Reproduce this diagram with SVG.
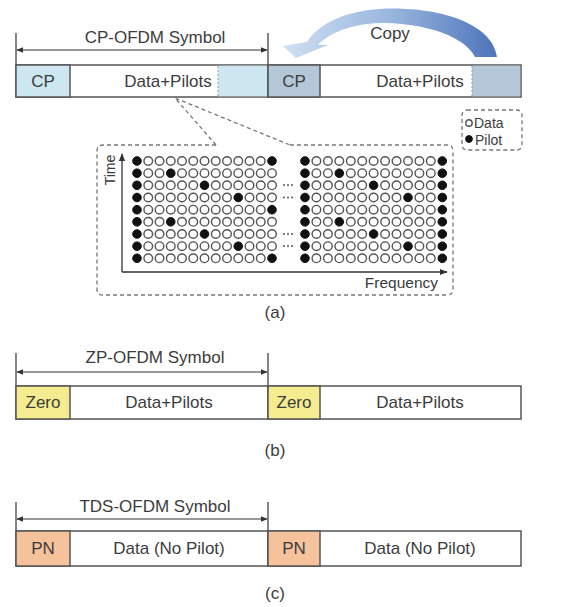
<svg xmlns="http://www.w3.org/2000/svg" width="568" height="607" viewBox="0 0 568 607">
<defs>
<marker id="ah" viewBox="0 0 10 10" refX="9" refY="5" markerWidth="6" markerHeight="6" orient="auto-start-reverse"><path d="M0,1 L10,5 L0,9 Z" fill="#333"/></marker>
<linearGradient id="cg" x1="0" y1="0" x2="1" y2="0"><stop offset="0" stop-color="#cfe0f2"/><stop offset="0.5" stop-color="#9ab6de"/><stop offset="1" stop-color="#4d74bb"/></linearGradient>
<style>
text{font-family:"Liberation Sans",Arial,sans-serif;fill:#3c3c3c;}
.lbl{font-size:17px;text-anchor:middle;}
.bar{stroke:#555;stroke-width:1.5;}
.dim{stroke:#333;stroke-width:1.2;fill:none;}
.tick{stroke:#333;stroke-width:1.2;}
.dash{stroke:#777;stroke-width:1.3;stroke-dasharray:4 3;fill:none;}
.d{fill:#fff;stroke:#555;stroke-width:1.4;}
.p{fill:#111;stroke:#111;stroke-width:1;}
.el{fill:#555;}
</style>
</defs>
<rect width="568" height="607" fill="#fff"/>

<g id="connectors">
<line class="tick" x1="16" y1="33" x2="16" y2="65"/>
<line class="tick" x1="268" y1="33" x2="268" y2="65"/>
<line class="dim" x1="17" y1="50" x2="267" y2="50" marker-start="url(#ah)" marker-end="url(#ah)"/>
<line class="tick" x1="16" y1="353" x2="16" y2="386"/>
<line class="tick" x1="268" y1="353" x2="268" y2="386"/>
<line class="dim" x1="17" y1="372" x2="267" y2="372" marker-start="url(#ah)" marker-end="url(#ah)"/>
<line class="tick" x1="16" y1="502" x2="16" y2="531"/>
<line class="tick" x1="268" y1="502" x2="268" y2="531"/>
<line class="dim" x1="17" y1="519" x2="267" y2="519" marker-start="url(#ah)" marker-end="url(#ah)"/>
<path d="M216,145 L175,98 L290,145" class="dash"/>
</g>

<g id="copy-arrow">
<path d="M497,57 C492,20 430,6 380,9 C345,11 318,24 307,42 L283,46 L296,58 L328,45 L318,45 C332,30 358,23 385,23 C430,24 466,38 475,57 Z" fill="url(#cg)"/>
<text class="lbl" x="390" y="39">Copy</text>
</g>

<g id="cp-label"><text class="lbl" x="155" y="43">CP-OFDM Symbol</text></g>

<g id="cp-symbol1">
<rect class="bar" x="16" y="65" width="252" height="32" fill="#fff"/>
<rect class="bar" x="16" y="65" width="54" height="32" fill="#cde7f0"/>
<rect x="218" y="65.75" width="49.25" height="30.5" fill="#cde7f0"/>
<line x1="218" y1="66" x2="218" y2="96" stroke="#999" stroke-width="1" stroke-dasharray="2 2"/>
<text class="lbl" x="43" y="87">CP</text>
<text class="lbl" x="168" y="87">Data+Pilots</text>
</g>

<g id="cp-symbol2">
<rect class="bar" x="268" y="65" width="253" height="32" fill="#fff"/>
<rect class="bar" x="268" y="65" width="52" height="32" fill="#b4c7d9"/>
<rect x="472" y="65.75" width="48.25" height="30.5" fill="#b4c7d9"/>
<line x1="472" y1="66" x2="472" y2="96" stroke="#999" stroke-width="1" stroke-dasharray="2 2"/>
<text class="lbl" x="294" y="87">CP</text>
<text class="lbl" x="420" y="87">Data+Pilots</text>
</g>

<g id="legend">
<rect x="462" y="110" width="60" height="40" rx="5" class="dash"/>
<circle cx="469" cy="123" r="3.2" class="d"/>
<text x="474" y="128" font-size="14">Data</text>
<circle cx="469" cy="139" r="3.4" class="p"/>
<text x="475" y="145" font-size="14">Pilot</text>
</g>

<g id="grid">
<path d="M216,145 L103,145 Q97,145 97,151 L97,289 Q97,295 103,295 L447,295 Q453,295 453,289 L453,151 Q453,145 447,145 L290,145" class="dash"/>
<line x1="122" y1="272" x2="122" y2="154" stroke="#333" stroke-width="1.3" marker-end="url(#ah)"/>
<line x1="122" y1="272" x2="447" y2="272" stroke="#333" stroke-width="1.3" marker-end="url(#ah)"/>
<text x="115" y="170" font-size="14" text-anchor="middle" transform="rotate(-90 115 170)">Time</text>
<text x="438" y="288" font-size="15.5" text-anchor="end">Frequency</text>
<g id="dotsL">
<circle cx="137" cy="161" r="4.3" class="p"/><circle cx="148.25" cy="161" r="4.3" class="d"/><circle cx="159.5" cy="161" r="4.3" class="d"/><circle cx="170.75" cy="161" r="4.3" class="d"/><circle cx="182" cy="161" r="4.3" class="d"/><circle cx="193.25" cy="161" r="4.3" class="d"/><circle cx="204.5" cy="161" r="4.3" class="d"/><circle cx="215.75" cy="161" r="4.3" class="d"/><circle cx="227" cy="161" r="4.3" class="d"/><circle cx="238.25" cy="161" r="4.3" class="d"/><circle cx="249.5" cy="161" r="4.3" class="d"/><circle cx="260.75" cy="161" r="4.3" class="d"/><circle cx="272" cy="161" r="4.3" class="p"/>
<circle cx="137" cy="173.2" r="4.3" class="p"/><circle cx="148.25" cy="173.2" r="4.3" class="d"/><circle cx="159.5" cy="173.2" r="4.3" class="d"/><circle cx="170.75" cy="173.2" r="4.3" class="p"/><circle cx="182" cy="173.2" r="4.3" class="d"/><circle cx="193.25" cy="173.2" r="4.3" class="d"/><circle cx="204.5" cy="173.2" r="4.3" class="d"/><circle cx="215.75" cy="173.2" r="4.3" class="d"/><circle cx="227" cy="173.2" r="4.3" class="d"/><circle cx="238.25" cy="173.2" r="4.3" class="d"/><circle cx="249.5" cy="173.2" r="4.3" class="d"/><circle cx="260.75" cy="173.2" r="4.3" class="d"/><circle cx="272" cy="173.2" r="4.3" class="d"/>
<circle cx="137" cy="185.3" r="4.3" class="p"/><circle cx="148.25" cy="185.3" r="4.3" class="d"/><circle cx="159.5" cy="185.3" r="4.3" class="d"/><circle cx="170.75" cy="185.3" r="4.3" class="d"/><circle cx="182" cy="185.3" r="4.3" class="d"/><circle cx="193.25" cy="185.3" r="4.3" class="d"/><circle cx="204.5" cy="185.3" r="4.3" class="p"/><circle cx="215.75" cy="185.3" r="4.3" class="d"/><circle cx="227" cy="185.3" r="4.3" class="d"/><circle cx="238.25" cy="185.3" r="4.3" class="d"/><circle cx="249.5" cy="185.3" r="4.3" class="d"/><circle cx="260.75" cy="185.3" r="4.3" class="d"/><circle cx="272" cy="185.3" r="4.3" class="d"/>
<circle cx="137" cy="197.5" r="4.3" class="p"/><circle cx="148.25" cy="197.5" r="4.3" class="d"/><circle cx="159.5" cy="197.5" r="4.3" class="d"/><circle cx="170.75" cy="197.5" r="4.3" class="d"/><circle cx="182" cy="197.5" r="4.3" class="d"/><circle cx="193.25" cy="197.5" r="4.3" class="d"/><circle cx="204.5" cy="197.5" r="4.3" class="d"/><circle cx="215.75" cy="197.5" r="4.3" class="d"/><circle cx="227" cy="197.5" r="4.3" class="d"/><circle cx="238.25" cy="197.5" r="4.3" class="p"/><circle cx="249.5" cy="197.5" r="4.3" class="d"/><circle cx="260.75" cy="197.5" r="4.3" class="d"/><circle cx="272" cy="197.5" r="4.3" class="d"/>
<circle cx="137" cy="209.7" r="4.3" class="p"/><circle cx="148.25" cy="209.7" r="4.3" class="d"/><circle cx="159.5" cy="209.7" r="4.3" class="d"/><circle cx="170.75" cy="209.7" r="4.3" class="d"/><circle cx="182" cy="209.7" r="4.3" class="d"/><circle cx="193.25" cy="209.7" r="4.3" class="d"/><circle cx="204.5" cy="209.7" r="4.3" class="d"/><circle cx="215.75" cy="209.7" r="4.3" class="d"/><circle cx="227" cy="209.7" r="4.3" class="d"/><circle cx="238.25" cy="209.7" r="4.3" class="d"/><circle cx="249.5" cy="209.7" r="4.3" class="d"/><circle cx="260.75" cy="209.7" r="4.3" class="d"/><circle cx="272" cy="209.7" r="4.3" class="p"/>
<circle cx="137" cy="221.8" r="4.3" class="p"/><circle cx="148.25" cy="221.8" r="4.3" class="d"/><circle cx="159.5" cy="221.8" r="4.3" class="d"/><circle cx="170.75" cy="221.8" r="4.3" class="p"/><circle cx="182" cy="221.8" r="4.3" class="d"/><circle cx="193.25" cy="221.8" r="4.3" class="d"/><circle cx="204.5" cy="221.8" r="4.3" class="d"/><circle cx="215.75" cy="221.8" r="4.3" class="d"/><circle cx="227" cy="221.8" r="4.3" class="d"/><circle cx="238.25" cy="221.8" r="4.3" class="d"/><circle cx="249.5" cy="221.8" r="4.3" class="d"/><circle cx="260.75" cy="221.8" r="4.3" class="d"/><circle cx="272" cy="221.8" r="4.3" class="d"/>
<circle cx="137" cy="234" r="4.3" class="p"/><circle cx="148.25" cy="234" r="4.3" class="d"/><circle cx="159.5" cy="234" r="4.3" class="d"/><circle cx="170.75" cy="234" r="4.3" class="d"/><circle cx="182" cy="234" r="4.3" class="d"/><circle cx="193.25" cy="234" r="4.3" class="d"/><circle cx="204.5" cy="234" r="4.3" class="p"/><circle cx="215.75" cy="234" r="4.3" class="d"/><circle cx="227" cy="234" r="4.3" class="d"/><circle cx="238.25" cy="234" r="4.3" class="d"/><circle cx="249.5" cy="234" r="4.3" class="d"/><circle cx="260.75" cy="234" r="4.3" class="d"/><circle cx="272" cy="234" r="4.3" class="d"/>
<circle cx="137" cy="246.2" r="4.3" class="p"/><circle cx="148.25" cy="246.2" r="4.3" class="d"/><circle cx="159.5" cy="246.2" r="4.3" class="d"/><circle cx="170.75" cy="246.2" r="4.3" class="d"/><circle cx="182" cy="246.2" r="4.3" class="d"/><circle cx="193.25" cy="246.2" r="4.3" class="d"/><circle cx="204.5" cy="246.2" r="4.3" class="d"/><circle cx="215.75" cy="246.2" r="4.3" class="d"/><circle cx="227" cy="246.2" r="4.3" class="d"/><circle cx="238.25" cy="246.2" r="4.3" class="p"/><circle cx="249.5" cy="246.2" r="4.3" class="d"/><circle cx="260.75" cy="246.2" r="4.3" class="d"/><circle cx="272" cy="246.2" r="4.3" class="d"/>
<circle cx="137" cy="258.3" r="4.3" class="p"/><circle cx="148.25" cy="258.3" r="4.3" class="d"/><circle cx="159.5" cy="258.3" r="4.3" class="d"/><circle cx="170.75" cy="258.3" r="4.3" class="d"/><circle cx="182" cy="258.3" r="4.3" class="d"/><circle cx="193.25" cy="258.3" r="4.3" class="d"/><circle cx="204.5" cy="258.3" r="4.3" class="d"/><circle cx="215.75" cy="258.3" r="4.3" class="d"/><circle cx="227" cy="258.3" r="4.3" class="d"/><circle cx="238.25" cy="258.3" r="4.3" class="d"/><circle cx="249.5" cy="258.3" r="4.3" class="d"/><circle cx="260.75" cy="258.3" r="4.3" class="d"/><circle cx="272" cy="258.3" r="4.3" class="p"/>
</g>
<g id="dotsR">
<circle cx="305" cy="161" r="4.3" class="p"/><circle cx="316.4" cy="161" r="4.3" class="d"/><circle cx="327.9" cy="161" r="4.3" class="d"/><circle cx="339.3" cy="161" r="4.3" class="d"/><circle cx="350.8" cy="161" r="4.3" class="d"/><circle cx="362.2" cy="161" r="4.3" class="d"/><circle cx="373.6" cy="161" r="4.3" class="d"/><circle cx="385.1" cy="161" r="4.3" class="d"/><circle cx="396.5" cy="161" r="4.3" class="d"/><circle cx="408" cy="161" r="4.3" class="d"/><circle cx="419.4" cy="161" r="4.3" class="d"/><circle cx="430.8" cy="161" r="4.3" class="d"/><circle cx="442.3" cy="161" r="4.3" class="p"/>
<circle cx="305" cy="173.2" r="4.3" class="p"/><circle cx="316.4" cy="173.2" r="4.3" class="d"/><circle cx="327.9" cy="173.2" r="4.3" class="d"/><circle cx="339.3" cy="173.2" r="4.3" class="p"/><circle cx="350.8" cy="173.2" r="4.3" class="d"/><circle cx="362.2" cy="173.2" r="4.3" class="d"/><circle cx="373.6" cy="173.2" r="4.3" class="d"/><circle cx="385.1" cy="173.2" r="4.3" class="d"/><circle cx="396.5" cy="173.2" r="4.3" class="d"/><circle cx="408" cy="173.2" r="4.3" class="d"/><circle cx="419.4" cy="173.2" r="4.3" class="d"/><circle cx="430.8" cy="173.2" r="4.3" class="d"/><circle cx="442.3" cy="173.2" r="4.3" class="p"/>
<circle cx="305" cy="185.3" r="4.3" class="p"/><circle cx="316.4" cy="185.3" r="4.3" class="d"/><circle cx="327.9" cy="185.3" r="4.3" class="d"/><circle cx="339.3" cy="185.3" r="4.3" class="d"/><circle cx="350.8" cy="185.3" r="4.3" class="d"/><circle cx="362.2" cy="185.3" r="4.3" class="d"/><circle cx="373.6" cy="185.3" r="4.3" class="p"/><circle cx="385.1" cy="185.3" r="4.3" class="d"/><circle cx="396.5" cy="185.3" r="4.3" class="d"/><circle cx="408" cy="185.3" r="4.3" class="d"/><circle cx="419.4" cy="185.3" r="4.3" class="d"/><circle cx="430.8" cy="185.3" r="4.3" class="d"/><circle cx="442.3" cy="185.3" r="4.3" class="p"/>
<circle cx="305" cy="197.5" r="4.3" class="p"/><circle cx="316.4" cy="197.5" r="4.3" class="d"/><circle cx="327.9" cy="197.5" r="4.3" class="d"/><circle cx="339.3" cy="197.5" r="4.3" class="d"/><circle cx="350.8" cy="197.5" r="4.3" class="d"/><circle cx="362.2" cy="197.5" r="4.3" class="d"/><circle cx="373.6" cy="197.5" r="4.3" class="d"/><circle cx="385.1" cy="197.5" r="4.3" class="d"/><circle cx="396.5" cy="197.5" r="4.3" class="d"/><circle cx="408" cy="197.5" r="4.3" class="p"/><circle cx="419.4" cy="197.5" r="4.3" class="d"/><circle cx="430.8" cy="197.5" r="4.3" class="d"/><circle cx="442.3" cy="197.5" r="4.3" class="p"/>
<circle cx="305" cy="209.7" r="4.3" class="p"/><circle cx="316.4" cy="209.7" r="4.3" class="d"/><circle cx="327.9" cy="209.7" r="4.3" class="d"/><circle cx="339.3" cy="209.7" r="4.3" class="d"/><circle cx="350.8" cy="209.7" r="4.3" class="d"/><circle cx="362.2" cy="209.7" r="4.3" class="d"/><circle cx="373.6" cy="209.7" r="4.3" class="d"/><circle cx="385.1" cy="209.7" r="4.3" class="d"/><circle cx="396.5" cy="209.7" r="4.3" class="d"/><circle cx="408" cy="209.7" r="4.3" class="d"/><circle cx="419.4" cy="209.7" r="4.3" class="d"/><circle cx="430.8" cy="209.7" r="4.3" class="d"/><circle cx="442.3" cy="209.7" r="4.3" class="p"/>
<circle cx="305" cy="221.8" r="4.3" class="p"/><circle cx="316.4" cy="221.8" r="4.3" class="d"/><circle cx="327.9" cy="221.8" r="4.3" class="d"/><circle cx="339.3" cy="221.8" r="4.3" class="p"/><circle cx="350.8" cy="221.8" r="4.3" class="d"/><circle cx="362.2" cy="221.8" r="4.3" class="d"/><circle cx="373.6" cy="221.8" r="4.3" class="d"/><circle cx="385.1" cy="221.8" r="4.3" class="d"/><circle cx="396.5" cy="221.8" r="4.3" class="d"/><circle cx="408" cy="221.8" r="4.3" class="d"/><circle cx="419.4" cy="221.8" r="4.3" class="d"/><circle cx="430.8" cy="221.8" r="4.3" class="d"/><circle cx="442.3" cy="221.8" r="4.3" class="p"/>
<circle cx="305" cy="234" r="4.3" class="p"/><circle cx="316.4" cy="234" r="4.3" class="d"/><circle cx="327.9" cy="234" r="4.3" class="d"/><circle cx="339.3" cy="234" r="4.3" class="d"/><circle cx="350.8" cy="234" r="4.3" class="d"/><circle cx="362.2" cy="234" r="4.3" class="d"/><circle cx="373.6" cy="234" r="4.3" class="p"/><circle cx="385.1" cy="234" r="4.3" class="d"/><circle cx="396.5" cy="234" r="4.3" class="d"/><circle cx="408" cy="234" r="4.3" class="d"/><circle cx="419.4" cy="234" r="4.3" class="d"/><circle cx="430.8" cy="234" r="4.3" class="d"/><circle cx="442.3" cy="234" r="4.3" class="p"/>
<circle cx="305" cy="246.2" r="4.3" class="p"/><circle cx="316.4" cy="246.2" r="4.3" class="d"/><circle cx="327.9" cy="246.2" r="4.3" class="d"/><circle cx="339.3" cy="246.2" r="4.3" class="d"/><circle cx="350.8" cy="246.2" r="4.3" class="d"/><circle cx="362.2" cy="246.2" r="4.3" class="d"/><circle cx="373.6" cy="246.2" r="4.3" class="d"/><circle cx="385.1" cy="246.2" r="4.3" class="d"/><circle cx="396.5" cy="246.2" r="4.3" class="d"/><circle cx="408" cy="246.2" r="4.3" class="p"/><circle cx="419.4" cy="246.2" r="4.3" class="d"/><circle cx="430.8" cy="246.2" r="4.3" class="d"/><circle cx="442.3" cy="246.2" r="4.3" class="p"/>
<circle cx="305" cy="258.3" r="4.3" class="p"/><circle cx="316.4" cy="258.3" r="4.3" class="d"/><circle cx="327.9" cy="258.3" r="4.3" class="d"/><circle cx="339.3" cy="258.3" r="4.3" class="d"/><circle cx="350.8" cy="258.3" r="4.3" class="d"/><circle cx="362.2" cy="258.3" r="4.3" class="d"/><circle cx="373.6" cy="258.3" r="4.3" class="d"/><circle cx="385.1" cy="258.3" r="4.3" class="d"/><circle cx="396.5" cy="258.3" r="4.3" class="d"/><circle cx="408" cy="258.3" r="4.3" class="d"/><circle cx="419.4" cy="258.3" r="4.3" class="d"/><circle cx="430.8" cy="258.3" r="4.3" class="d"/><circle cx="442.3" cy="258.3" r="4.3" class="p"/>
</g>
<g id="ellipses">
<circle cx="284" cy="185" r="1" class="el"/><circle cx="288" cy="185" r="1" class="el"/><circle cx="292" cy="185" r="1" class="el"/>
<circle cx="284" cy="197.5" r="1" class="el"/><circle cx="288" cy="197.5" r="1" class="el"/><circle cx="292" cy="197.5" r="1" class="el"/>
<circle cx="284" cy="234" r="1" class="el"/><circle cx="288" cy="234" r="1" class="el"/><circle cx="292" cy="234" r="1" class="el"/>
<circle cx="284" cy="246" r="1" class="el"/><circle cx="288" cy="246" r="1" class="el"/><circle cx="292" cy="246" r="1" class="el"/>
</g>
</g>
<text class="lbl" x="275" y="318" font-size="15">(a)</text>

<g id="zp-label"><text class="lbl" x="155" y="363">ZP-OFDM Symbol</text></g>
<g id="zp-symbol1">
<rect class="bar" x="16" y="386" width="252" height="33" fill="#fff"/>
<rect class="bar" x="16" y="386" width="54" height="33" fill="#f4ec8e"/>
<text class="lbl" x="43" y="408">Zero</text>
<text class="lbl" x="169" y="408">Data+Pilots</text>
</g>
<g id="zp-symbol2">
<rect class="bar" x="268" y="386" width="253" height="33" fill="#fff"/>
<rect class="bar" x="268" y="386" width="52" height="33" fill="#f4ec8e"/>
<text class="lbl" x="294" y="408">Zero</text>
<text class="lbl" x="420" y="408">Data+Pilots</text>
</g>
<text class="lbl" x="275" y="456" font-size="15">(b)</text>

<g id="tds-label"><text class="lbl" x="155" y="512">TDS-OFDM Symbol</text></g>
<g id="tds-symbol1">
<rect class="bar" x="16" y="531" width="252" height="35" fill="#fff"/>
<rect class="bar" x="16" y="531" width="54" height="35" fill="#f5c29c"/>
<text class="lbl" x="43" y="554">PN</text>
<text class="lbl" x="169" y="554">Data (No Pilot)</text>
</g>
<g id="tds-symbol2">
<rect class="bar" x="268" y="531" width="253" height="35" fill="#fff"/>
<rect class="bar" x="268" y="531" width="52" height="35" fill="#f5c29c"/>
<text class="lbl" x="294" y="554">PN</text>
<text class="lbl" x="420" y="554">Data (No Pilot)</text>
</g>
<text class="lbl" x="275" y="599" font-size="15">(c)</text>
</svg>
